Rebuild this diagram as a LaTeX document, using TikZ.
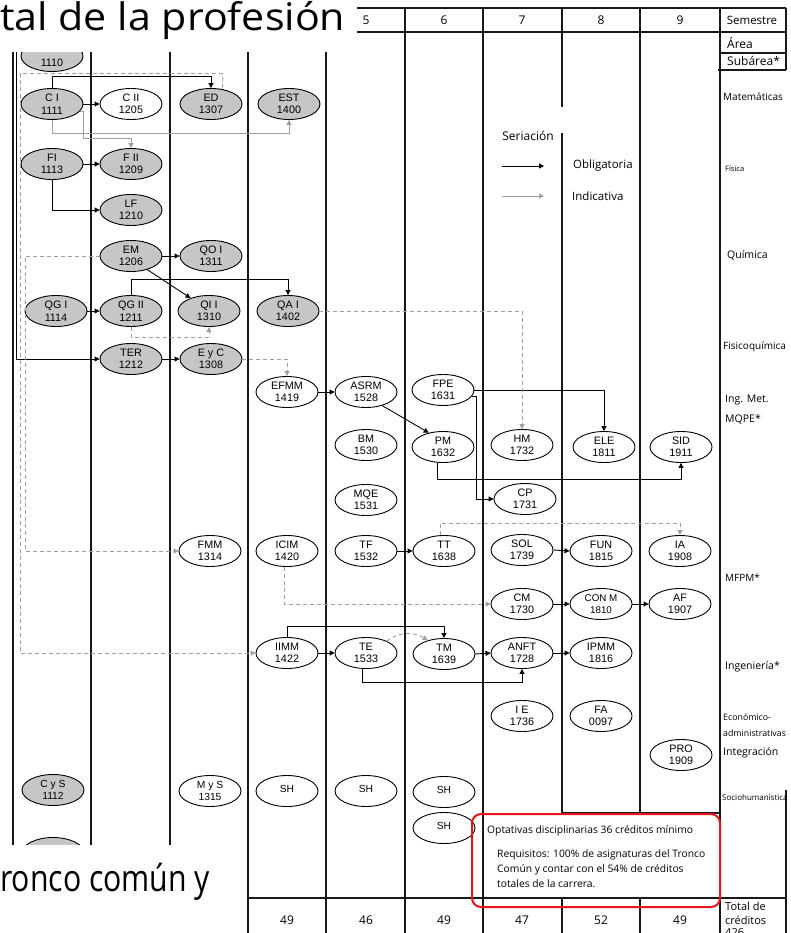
\documentclass[tikz,border=0pt]{standalone}
\usepackage{fontspec}
\usepackage{graphicx}
\setmainfont{Liberation Sans}
\newfontfamily\os{Open Sans}
\usetikzlibrary{shapes.geometric,arrows.meta}
\definecolor{boxred}{RGB}{232,20,28}
\tikzset{
  gridline/.style={draw=black!90, line width=1.1pt},
  subj/.style={ellipse, draw=black, line width=0.9pt, fill=white, minimum width=62pt, minimum height=31pt, inner sep=0pt},
  gsubj/.style={subj, fill=gray!45},
  ltx/.style={align=center, inner sep=0pt, font=\fontsize{10.8}{12.5}\selectfont},
  arrtip/.style={-{Triangle[length=5pt,width=5pt]}},
  ob/.style={draw=black, line width=0.9pt, arrtip},
  grl/.style={draw=gray!75, line width=0.9pt, arrtip},
  ind/.style={grl, dash pattern=on 4pt off 3pt},
  lab/.style={anchor=west, inner sep=0pt, font=\os\fontsize{10.5}{12}\selectfont},
  hdr/.style={inner sep=0pt, font=\os\fontsize{12}{14}\selectfont},
  smalltx/.style={ltx, font=\fontsize{10.3}{11.5}\selectfont},
}
\newcommand\mksubj[5]{\node[#2] (#1) at (#3) {}; \node[ltx] (#1-t) at (#1) {#4\\#5};}
\begin{document}
\begin{tikzpicture}[x=1pt,y=-1pt]
\fill[white] (0,0) rectangle (790,933);
\useasboundingbox (0,0) rectangle (790,933);

% ---------- grid ----------
\foreach \xx in {13,91,170} \draw[gridline] (\xx,8) -- (\xx,845);
\foreach \xx in {248,326,405,483,720} \draw[gridline] (\xx,8) -- (\xx,933);
\draw[gridline] (562,8) -- (562,107) (562,133) -- (562,813) (562,898) -- (562,933);
\draw[gridline] (640,8) -- (640,813) (640,898) -- (640,933);
\draw[gridline] (786,8) -- (786,70) (786,790) -- (786,933);
\draw[gridline] (13,8) -- (786,8) (13,32) -- (786,32) (720,53) -- (786,53) (718,70) -- (786,70)
  (248,898) -- (786,898) (562,813) -- (720,813);

% ---------- subjects ----------
\mksubj{n1110}{gsubj}{52,56}{\strut}{1110}
\mksubj{ci}{gsubj}{52,104}{C I}{1111}
\mksubj{cii}{subj}{131,104}{C II}{1205}
\mksubj{ed}{gsubj}{211,104}{ED}{1307}
\mksubj{est}{gsubj}{289,104}{EST}{1400}
\mksubj{fi}{gsubj}{52,164}{FI}{1113}
\mksubj{fii}{gsubj}{131,164}{F II}{1209}
\mksubj{lf}{gsubj}{131,210}{LF}{1210}
\mksubj{em}{gsubj}{131,256}{EM}{1206}
\mksubj{qoi}{gsubj}{211,256}{QO I}{1311}
\mksubj{qgi}{gsubj}{56,311}{QG I}{1114}
\mksubj{qgii}{gsubj}{131,311}{QG II}{1211}
\mksubj{qii}{gsubj}{209,311}{QI I}{1310}
\mksubj{qai}{gsubj}{288,311}{QA I}{1402}
\mksubj{ter}{gsubj}{131,359}{TER}{1212}
\mksubj{eyc}{gsubj}{211,359}{E y C}{1308}
\mksubj{efmm}{subj}{287,392}{EFMM}{1419}
\mksubj{asrm}{subj}{366,392}{ASRM}{1528}
\mksubj{fpe}{subj}{443,390}{FPE}{1631}
\mksubj{bm}{subj}{366,445}{BM}{1530}
\mksubj{pm}{subj}{443,447}{PM}{1632}
\mksubj{hm}{subj}{522,445}{HM}{1732}
\mksubj{ele}{subj}{604,447}{ELE}{1811}
\mksubj{sid}{subj}{681,447}{SID}{1911}
\mksubj{mqe}{subj}{366,500}{MQE}{1531}
\mksubj{cp}{subj}{525,499}{CP}{1731}
\mksubj{fmm}{subj}{210,551}{FMM}{1314}
\mksubj{icim}{subj}{287,551}{ICIM}{1420}
\mksubj{tf}{subj}{366,551}{TF}{1532}
\mksubj{tt}{subj}{444,551}{TT}{1638}
\mksubj{sol}{subj}{522,550}{SOL}{1739}
\mksubj{fun}{subj}{601,551}{FUN}{1815}
\mksubj{ia}{subj}{680,551}{IA}{1908}
\mksubj{cm}{subj}{522,604}{CM}{1730}
\node[subj] (conm) at (601,604) {}; \node[ltx, font=\fontsize{9.8}{12.5}\selectfont] (conm-t) at (conm) {CON M\\1810};
\mksubj{af}{subj}{680,604}{AF}{1907}
\mksubj{iimm}{subj}{287,653}{IIMM}{1422}
\mksubj{te}{subj}{366,653}{TE}{1533}
\mksubj{tm}{subj}{444,654}{TM}{1639}
\mksubj{anft}{subj}{522,653}{ANFT}{1728}
\mksubj{ipmm}{subj}{601,653}{IPMM}{1816}
\mksubj{ie}{subj}{522,716}{I E}{1736}
\mksubj{fa}{subj}{601,716}{FA}{0097}
\mksubj{pro}{subj}{681,755}{PRO}{1909}
\node[gsubj] (cys) at (53,790) {}; \node[smalltx] (cys-t) at (cys) {C y S\\1112};
\node[subj] (mys) at (210,791) {}; \node[smalltx] (mys-t) at (mys) {M y S\\1315};
\node[subj] (sh4) at (287,791) {}; \node[smalltx] (sh4-t) at ([yshift=2pt]sh4) {SH};
\node[subj] (sh5) at (366,791) {}; \node[smalltx] (sh5-t) at ([yshift=2pt]sh5) {SH};
\node[subj] (sh6) at (444,792) {}; \node[smalltx] (sh6-t) at ([yshift=2pt]sh6) {SH};
\node[subj] (sh6b) at (444,828) {}; \node[smalltx] (sh6b-t) at ([yshift=2pt]sh6b) {SH};
\node[gsubj] (gbot) at (53,853) {};

% ---------- obligatory (black) ----------
\coordinate (k1) at (16,35);
\draw[ob] (n1110.north) |- (k1) |- (ter.west);
\draw[ob] (ci.east) -- (cii.west);
\draw[ob] (ci.north) -- ++(0,-12) -| (ed.north);
\draw[ob] (fi.east) -- (fii.west);
\draw[ob] (fi.south) |- (lf.west);
\draw[ob] (em.east) -- (qoi.west);
\draw[ob] (em.-40) -- (qii.145);
\draw[ob] (qgi.east) -- (qgii.west);
\draw[ob] (qgii.north) -- ++(0,-16) -| (qai.north);
\draw[ob] (ter.east) -- (eyc.west);
\draw[ob] (efmm.east) -- (asrm.west);
\draw[ob] (asrm.-40) -- (pm.135);
\draw[ob] (fpe.east) -| (ele.north);
\draw[ob] (fpe.-12) -- ++(4,0) |- (cp.west);
\draw[ob] ([xshift=-6pt]pm.south) -- ++(0,16) -| (sid.south);
\draw[ob] (tf.east) -- (tt.west);
\draw[ob] (sol.east) -- (fun.west);
\draw[ob] (cm.east) -- (conm.west);
\draw[ob] (conm.east) -- (af.west);
\draw[ob] (iimm.east) -- (te.west);
\draw[ob] (iimm.north) -- ++(0,-11) -| (tm.north);
\draw[ob] (tm.east) -- (anft.west);
\draw[ob] (anft.east) -- (ipmm.west);
\draw[ob] ([xshift=-4pt]te.south) -- ++(0,13) -| (anft.south);

% ---------- indicative (grey) ----------
\draw[grl] (ci.south) -- ++(0,14) -| (est.south);
\draw[grl] (ci.-15) -- ++(4,0) |- ([yshift=10pt]fii.north) -- (fii.north);
\coordinate (dA) at (20,73);
\coordinate (dB) at (25,256);
\draw[ind] ([xshift=11pt]ed.north) |- (dA) |- (iimm.west);
\draw[ind] (em.west) -- (dB) |- (fmm.west);
\draw[ind] (qgii.south) -- ++(0,10) -| (qii.south);
\draw[ind] (eyc.east) -| (efmm.north);
\draw[ind] (qai.east) -| (hm.north);
\draw[ind] ([xshift=-4pt]tt.north) -- ++(0,-12) -| (ia.north);
\draw[ind] ([xshift=-3pt]icim.south) |- (cm.west);
\draw[ind] (te.30) .. controls +(12,-10) and +(-12,-8) .. (tm.140);

% ---------- legend ----------
\node[hdr] (ser) at (528,136) {Seriación};
\coordinate (lgA1) at (502,166); \coordinate (lgA2) at (544,166);
\coordinate (lgB1) at (502,196); \coordinate (lgB2) at (544,196);
\draw[ob] (lgA1) -- (lgA2);
\draw[grl] (lgB1) -- (lgB2);
\node[lab, font=\os\fontsize{11.5}{13}\selectfont] (obl) at (573,166) {Obligatoria};
\node[lab, font=\os\fontsize{11.5}{13}\selectfont] (indi) at (572,196) {Indicativa};

% ---------- header and right column ----------
\node[hdr] (s5) at (366,20) {5};
\node[hdr] (s6) at (444,20) {6};
\node[hdr] (s7) at (522,20) {7};
\node[hdr] (s8) at (601,20) {8};
\node[hdr] (s9) at (680,20) {9};
\node[hdr, font=\os\fontsize{11.5}{13}\selectfont] (sem) at (752,20) {Semestre};
\node[lab, font=\os\fontsize{12}{13}\selectfont] (area) at (727,43) {Área};
\node[lab, font=\os\fontsize{12}{13}\selectfont] (subarea) at (727,61) {Subárea*};
\node[lab, font=\os\fontsize{10}{12}\selectfont] (r1) at (723,97) {Matemáticas};
\node[lab, font=\os\fontsize{7.5}{9}\selectfont] (r2) at (725,169) {Física};
\node[lab] (r3) at (727,255) {Química};
\node[lab, font=\os\fontsize{10}{12}\selectfont] (r4) at (723,347) {Fisicoquímica};
\node[lab] (r5) at (725,400) {Ing. Met.};
\node[lab] (r6) at (725,419) {MQPE*};
\node[lab, font=\os\fontsize{10}{12}\selectfont] (r7) at (725,578) {MFPM*};
\node[lab] (r8) at (725,667) {Ingeniería*};
\node[lab, font=\os\fontsize{8.8}{10}\selectfont] (r9) at (723,717) {Económico-};
\node[lab, font=\os\fontsize{8.8}{10}\selectfont] (r10) at (723,733) {administrativas};
\node[lab] (r11) at (723,753) {Integración};
\node[lab, font=\os\fontsize{8}{10}\selectfont] (r12) at (722,797) {Sociohumanística};
\node[lab, font=\os\fontsize{11}{12}\selectfont] (r13) at (725,906) {Total de};
\node[lab, font=\os\fontsize{11}{12}\selectfont] (r14) at (725,920) {créditos};
\node[lab, font=\os\fontsize{11}{12}\selectfont] (r15) at (725,933) {426};

% ---------- totals ----------
\node[hdr] (t4) at (287,920) {49};
\node[hdr] (t5) at (366,920) {46};
\node[hdr] (t6) at (444,920) {49};
\node[hdr] (t7) at (522,920) {47};
\node[hdr] (t8) at (601,920) {52};
\node[hdr] (t9) at (680,920) {49};

% ---------- optativas box ----------
\node[draw=boxred, line width=2pt, rounded corners=9pt, minimum width=248pt, minimum height=93pt, inner sep=0pt] (optbox) at (596,860.5) {};
\node[anchor=west, inner sep=0pt, font=\os\fontsize{10.3}{12}\selectfont] (opt1) at (487,831) {Optativas disciplinarias 36 créditos mínimo};
\node[anchor=north west, inner sep=0pt, align=left, font=\os\fontsize{10.3}{15}\selectfont] (opt2) at (497,849)
  {Requisitos: 100\% de asignaturas del Tronco\\Común y contar con el 54\% de créditos\\totales de la carrera.};

% ---------- page fragments covering the chart ----------
\fill[white] (0,0) rectangle (357,52);
\fill[white] (0,845) rectangle (246,933);
\node[anchor=base west, inner sep=0pt] (title) at (0,31)
  {\resizebox{345pt}{\height}{\os\fontsize{38}{38}\selectfont tal de la profesión}};
\node[anchor=base west, inner sep=0pt] (foot) at (0,891)
  {\resizebox{210pt}{\height}{\os\fontsize{37}{37}\selectfont ronco común y}};
\end{tikzpicture}
\end{document}
